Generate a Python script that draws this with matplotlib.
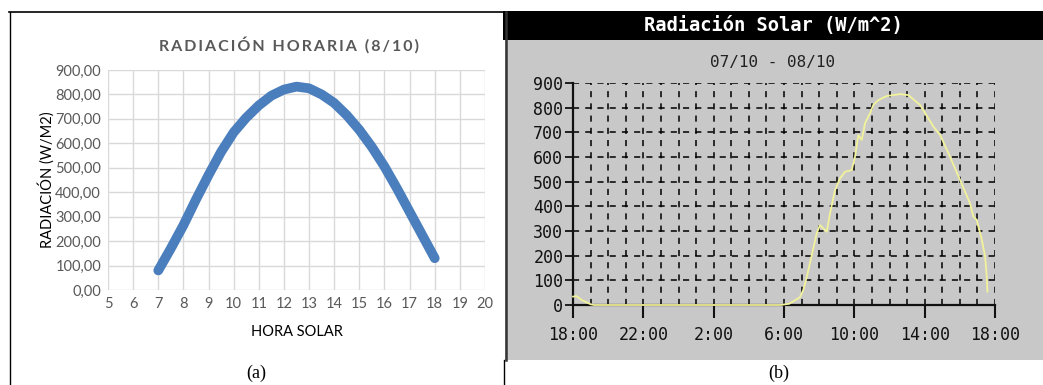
import numpy as np
import matplotlib
matplotlib.use("Agg")
import matplotlib.pyplot as plt
from matplotlib.patches import Rectangle
from matplotlib.lines import Line2D

# ---------------- datos (a): radiacion horaria calculada ----------------
hora_solar = [7, 7.5, 8, 8.5, 9, 9.5, 10, 10.5, 11, 11.5, 12, 12.5,
              13, 13.5, 14, 14.5, 15, 15.5, 16, 16.5, 17, 17.5, 18]
radiacion = [80, 170, 265, 370, 470, 565, 645, 705, 755, 795, 820, 832,
             825, 800, 765, 715, 655, 585, 505, 415, 320, 225, 130]

# ---------------- datos (b): estacion meteorologica ----------------
# horas desde las 18:00 del 07/10
horas_b = [0, 0.2, 0.5, 1.0, 1.2, 6, 11.8, 12.3, 12.9, 13.1, 13.3, 13.6,
           13.86, 14.05, 14.43, 14.62, 14.9, 15.19, 15.47, 15.85, 16.04,
           16.23, 16.42, 16.61, 16.89, 17.08, 17.37, 17.84, 18.6, 19.07,
           19.74, 20.5, 20.88, 21.44, 22.01, 22.58, 22.77, 22.96, 23.06,
           23.25, 23.44, 23.53, 23.57]
radiacion_b = [34, 36, 20, 3, 0, 0, 0, 5, 31, 61, 115, 209,
               291, 324, 297, 372, 466, 514, 540, 547, 601,
               689, 669, 737, 777, 811, 831, 847, 855, 851,
               811, 723, 689, 601, 507, 412, 358, 345, 317,
               264, 196, 115, 54]
ticks_b = [0, 4, 8, 12, 16, 20, 24]
etiquetas_b = ['18:00', '22:00', '2:00', '6:00', '10:00', '14:00', '18:00']

W, H = 1043, 385
fig = plt.figure(figsize=(W / 100, H / 100), dpi=100)
fig.patch.set_facecolor('white')

# fondo / marcos en coordenadas de pixel
bg = fig.add_axes([0, 0, 1, 1], zorder=0)
bg.set_xlim(0, W)
bg.set_ylim(H, 0)
bg.axis('off')
gris_b = '#c8c8c8'
bg.add_patch(Rectangle((505, 40), W - 505, 320, color=gris_b, lw=0))
bg.add_patch(Rectangle((503, 11), W - 503, 29, color='black', lw=0))
bg.add_line(Line2D([9, 503], [12, 12], color='black', lw=1.2))
bg.add_line(Line2D([9.5, 9.5], [12, H], color='black', lw=1.0))
bg.add_line(Line2D([505.5, 505.5], [12, 360], color='#333333', lw=1.8))
bg.add_line(Line2D([503.5, 503.5], [360, H], color='black', lw=1.0))

serif = ['Liberation Serif', 'DejaVu Serif']
bg.text(256, 373, '(a)', ha='center', va='center', fontsize=13, family=serif)
bg.text(779, 373, '(b)', ha='center', va='center', fontsize=13, family=serif)

# ---------------- panel (a) ----------------
fa = ['Lato', 'DejaVu Sans']
ax = fig.add_axes([108 / W, 1 - 290 / H, (485 - 108) / W, (290 - 70) / H], zorder=2)
ax.set_facecolor('white')
ax.plot(hora_solar, radiacion, color='#4b7ebc', lw=7, solid_capstyle='round',
        solid_joinstyle='round', zorder=3)
ax.set_xlim(5, 20)
ax.set_ylim(0, 900)
ax.set_xticks(range(5, 21))
ax.set_yticks(range(0, 901, 100))
ax.set_yticklabels([f'{v},00' for v in range(0, 901, 100)])
ax.grid(True, color='#d9d9d9', lw=1.0)
ax.set_axisbelow(True)
for s in ax.spines.values():
    s.set_visible(False)
ax.tick_params(length=0, colors='#595959', labelsize=10.5, pad=5)
for lab in ax.get_xticklabels() + ax.get_yticklabels():
    lab.set_family(fa)
ax.set_xlabel('HORA SOLAR', fontsize=10.5, family=fa, color='black', labelpad=10)
ax.set_ylabel('RADIACIÓN (W/M2)', fontsize=10.5, family=fa, color='black', labelpad=0)
titulo = '\u2009'.join('RADIACIÓN HORARIA (8/10)')
bg.text(289, 45, titulo, ha='center', va='center', fontsize=11.5,
        fontweight='bold', color='#595959', family=fa)

# ---------------- panel (b) ----------------
mono = ['DejaVu Sans Mono']
bx = fig.add_axes([573 / W, 1 - 305 / H, (995 - 573) / W, (305 - 83) / H], zorder=2)
bx.set_facecolor(gris_b)
bx.set_xlim(0, 24)
bx.set_ylim(0, 900)
for h in range(1, 25):
    bx.axvline(h, color='black', lw=1.1, ls=(0, (4, 4)), zorder=1)
for v in range(100, 901, 100):
    bx.axhline(v, color='black', lw=1.1, ls=(0, (4, 4)), zorder=1)
bx.plot(horas_b, radiacion_b, color='#f2f29a', lw=1.3, zorder=5, clip_on=False)
bx.set_xticks(ticks_b)
bx.set_xticklabels(etiquetas_b)
bx.set_yticks(range(0, 901, 100))
for s in ['top', 'right']:
    bx.spines[s].set_visible(False)
for s in ['left', 'bottom']:
    bx.spines[s].set_linewidth(1.6)
    bx.spines[s].set_color('#111111')
bx.tick_params(axis='y', length=6, width=1.3, pad=1, labelsize=12, colors='#111111')
bx.tick_params(axis='x', length=9, width=1.5, pad=6, labelsize=12, colors='#111111')
for lab in bx.get_xticklabels() + bx.get_yticklabels():
    lab.set_family(mono)

bg.text(773, 26, 'Radiación Solar (W/m^2)', ha='center', va='center', fontsize=13.5,
        fontweight='bold', color='white', family=mono)
bg.text(773, 63, '07/10 - 08/10', ha='center', va='center', fontsize=11.5,
        color='#222222', family=mono)

fig.savefig('out.png', dpi=100)
